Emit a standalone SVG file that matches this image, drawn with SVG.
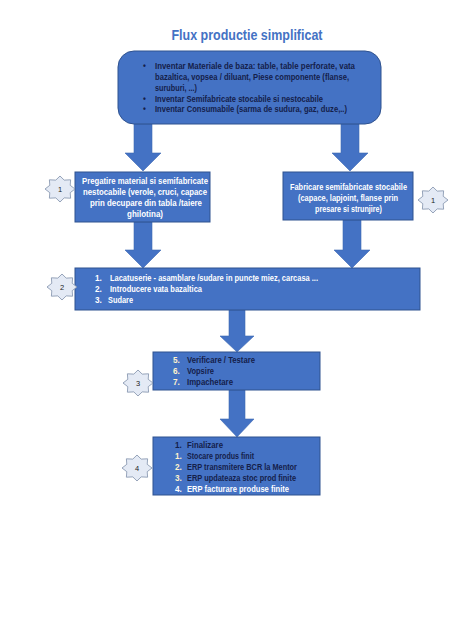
<svg xmlns="http://www.w3.org/2000/svg" width="474" height="632" viewBox="0 0 474 632">
<style>
.box{fill:#4472c4;stroke:#2f528f;stroke-width:1}
.arr{fill:#4472c4;stroke:#3d68b4;stroke-width:0.6}
.star{fill:#e4eaf5;stroke:#7f8fa9;stroke-width:0.8}
.t{font-family:"Liberation Sans",Arial,sans-serif;font-weight:bold;font-size:8.2px}
.w{fill:#ffffff}
.n{fill:#14204a}
.lt{fill:#fff2cc}
.c{text-anchor:middle}
.sn{font-family:"Liberation Sans",Arial,sans-serif;font-size:7.5px;fill:#222;text-anchor:middle}
</style>
<defs>
<path id="star8" d="M0,-13 L4.2,-8.9 L10.61,-9.19 L10.2,-3.7 L15,0 L10.2,3.7 L10.61,9.19 L4.2,8.9 L0,13 L-4.2,8.9 L-10.61,9.19 L-10.2,3.7 L-15,0 L-10.2,-3.7 L-10.61,-9.19 L-4.2,-8.9 Z"/>
</defs>
<rect width="474" height="632" fill="#ffffff"/>
<text x="247" y="40" text-anchor="middle" font-family="'Liberation Sans',Arial,sans-serif" font-weight="bold" font-size="14" fill="#4472c4" textLength="151" lengthAdjust="spacingAndGlyphs">Flux productie simplificat</text>

<g id="connectors">
<path class="arr" d="M134,124 L152,124 L152,153 L161,153 L143,171 L125,153 L134,153 Z"/>
<path class="arr" d="M341,124 L359,124 L359,153 L368,153 L350,171 L332,153 L341,153 Z"/>
<path class="arr" d="M134,222 L152,222 L152,250 L161,250 L143,268 L125,250 L134,250 Z"/>
<path class="arr" d="M343,220 L361,220 L361,250 L370,250 L352,268 L334,250 L343,250 Z"/>
<path class="arr" d="M229,310 L245,310 L245,336 L254,336 L237,352 L220,336 L229,336 Z"/>
<path class="arr" d="M229,390 L245,390 L245,419 L254,419 L237,437 L220,419 L229,419 Z"/>
</g>

<g id="node-inventory">
<rect class="box" x="118" y="51" width="263" height="73" rx="16"/>
<text class="t n" x="143" y="69">•</text>
<text class="t n" x="155" y="69" textLength="200" lengthAdjust="spacingAndGlyphs">Inventar Materiale de baza: table, table perforate, vata</text>
<text class="t n" x="155" y="80" textLength="194" lengthAdjust="spacingAndGlyphs">bazaltica, vopsea / diluant, Piese componente (flanse,</text>
<text class="t n" x="155" y="91" textLength="42" lengthAdjust="spacingAndGlyphs">suruburi, ...)</text>
<text class="t n" x="143" y="101.5">•</text>
<text class="t n" x="155" y="101.5" textLength="168" lengthAdjust="spacingAndGlyphs">Inventar Semifabricate stocabile si nestocabile</text>
<text class="t n" x="143" y="112">•</text>
<text class="t n" x="155" y="112" textLength="192" lengthAdjust="spacingAndGlyphs">Inventar Consumabile (sarma de sudura, gaz, duze,..)</text>
</g>

<g id="node-pregatire">
<rect class="box" x="75" y="172" width="135" height="50"/>
<text class="t w c" x="145" y="183.5" textLength="126" lengthAdjust="spacingAndGlyphs">Pregatire material si semifabricate</text>
<text class="t w c" x="145" y="194.5" textLength="124" lengthAdjust="spacingAndGlyphs">nestocabile (verole, cruci, capace</text>
<text class="t w c" x="146" y="205.5" textLength="112" lengthAdjust="spacingAndGlyphs">prin decupare din tabla  /taiere</text>
<text class="t w c" x="145" y="216.5" textLength="36" lengthAdjust="spacingAndGlyphs">ghilotina)</text>
</g>

<g id="node-fabricare">
<rect class="box" x="283" y="172" width="130" height="48"/>
<text class="t w c" x="348.5" y="189.5" textLength="117" lengthAdjust="spacingAndGlyphs">Fabricare semifabricate stocabile</text>
<text class="t w c" x="348" y="200.5" textLength="100" lengthAdjust="spacingAndGlyphs">(capace, lapjoint, flanse prin</text>
<text class="t w c" x="348.5" y="211.5" textLength="67" lengthAdjust="spacingAndGlyphs">presare si strunjire)</text>
</g>

<g id="node-lacatuserie">
<rect class="box" x="75" y="268" width="345" height="42"/>
<text class="t w" x="95" y="280.5">1.</text>
<text class="t w" x="110" y="280.5" textLength="208" lengthAdjust="spacingAndGlyphs">Lacatuserie - asamblare /sudare in puncte miez, carcasa ...</text>
<text class="t w" x="95" y="292">2.</text>
<text class="t w" x="110" y="292" textLength="92" lengthAdjust="spacingAndGlyphs">Introducere vata bazaltica</text>
<text class="t w" x="95" y="303">3.</text>
<text class="t w" x="108" y="303" textLength="25" lengthAdjust="spacingAndGlyphs">Sudare</text>
</g>

<g id="node-verificare">
<rect class="box" x="153" y="352" width="167" height="38"/>
<text class="t lt" x="173" y="362.5">5.</text>
<text class="t n" x="187" y="362.5" textLength="68" lengthAdjust="spacingAndGlyphs">Verificare / Testare</text>
<text class="t lt" x="173" y="373.5">6.</text>
<text class="t n" x="187" y="373.5" textLength="27" lengthAdjust="spacingAndGlyphs">Vopsire</text>
<text class="t lt" x="173" y="384.5">7.</text>
<text class="t n" x="187" y="384.5" textLength="46" lengthAdjust="spacingAndGlyphs">Impachetare</text>
</g>

<g id="node-finalizare">
<rect class="box" x="153" y="437" width="167" height="58"/>
<text class="t n" x="175" y="447.5">1.</text>
<text class="t n" x="187" y="447.5" textLength="36" lengthAdjust="spacingAndGlyphs">Finalizare</text>
<text class="t lt" x="175" y="458.5">1.</text>
<text class="t n" x="187" y="458.5" textLength="67" lengthAdjust="spacingAndGlyphs">Stocare produs finit</text>
<text class="t lt" x="175" y="469.5">2.</text>
<text class="t n" x="187" y="469.5" textLength="110" lengthAdjust="spacingAndGlyphs">ERP transmitere BCR la Mentor</text>
<text class="t lt" x="175" y="480.5">3.</text>
<text class="t n" x="187" y="480.5" textLength="109" lengthAdjust="spacingAndGlyphs">ERP updateaza stoc prod finite</text>
<text class="t w" x="175" y="491.5">4.</text>
<text class="t w" x="187" y="491.5" textLength="102" lengthAdjust="spacingAndGlyphs">ERP facturare produse finite</text>
</g>

<g id="star-1a" transform="translate(60,189)">
<use href="#star8" class="star"/>
<text class="sn" x="0" y="2.7">1</text>
</g>
<g id="star-1b" transform="translate(433,200)">
<use href="#star8" class="star"/>
<text class="sn" x="0" y="2.7">1</text>
</g>
<g id="star-2" transform="translate(62,287)">
<use href="#star8" class="star"/>
<text class="sn" x="0" y="2.7">2</text>
</g>
<g id="star-3" transform="translate(138,383)">
<use href="#star8" class="star"/>
<text class="sn" x="0" y="2.7">3</text>
</g>
<g id="star-4" transform="translate(137,468)">
<use href="#star8" class="star"/>
<text class="sn" x="0" y="2.7">4</text>
</g>
</svg>
